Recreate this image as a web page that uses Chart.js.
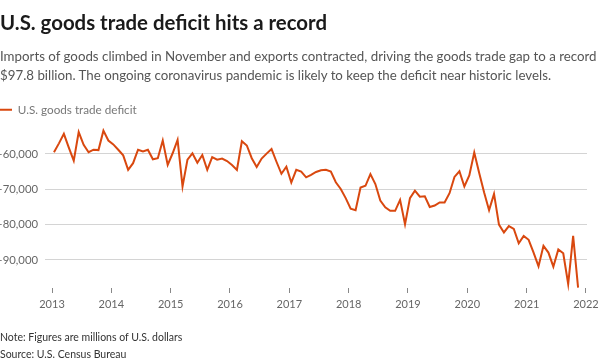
<!DOCTYPE html>
<html>
<head>
<meta charset="utf-8">
<script src="https://cdn.jsdelivr.net/npm/chart.js@4.4.1/dist/chart.umd.min.js"></script>
<style>
    html, body { margin: 0; padding: 0; background: #fff; }
    body { width: 600px; height: 364px; position: relative; overflow: hidden; font-family: Lato, sans-serif; }
    #title { position: absolute; left: 0; top: 10px; font-size: 20.4px; line-height: 24px; font-weight: bold; color: #1a1a1a; white-space: nowrap; }
    #subtitle { position: absolute; left: 0; top: 47px; font-size: 13.3px; line-height: 19px; color: #555; white-space: nowrap; }
    #notes { position: absolute; left: 0; top: 329px; font-size: 10.5px; line-height: 17px; color: #333; }
    #chartWrap { position: absolute; left: 0; top: 0; width: 600px; height: 364px; }
</style>
</head>
<body>
<div id="chartWrap"><canvas id="chart" width="600" height="364"></canvas></div>
<div id="title">U.S. goods trade deficit hits a record</div>
<div id="subtitle">Imports of goods climbed in November and exports contracted, driving the goods trade gap to a record<br>$97.8 billion. The ongoing coronavirus pandemic is likely to keep the deficit near historic levels.</div>
<div id="notes">Note: Figures are millions of U.S. dollars<br>Source: U.S. Census Bureau</div>
<script>
// monthly goods trade balance, millions of USD, Jan 2013 - Nov 2021
const startYear = 2013;
const deficit2013 = [-59500, -57000, -54300, -58200, -61900, -53800, -57400, -59500, -58800, -58900, -53400, -56200];
const deficit2014 = [-57300, -58800, -60400, -64500, -62600, -58800, -59300, -58800, -61500, -61200, -56200, -63100];
const deficit2015 = [-59800, -56000, -69200, -61600, -59800, -62500, -60300, -64500, -60900, -61600, -61300, -62000];
const deficit2016 = [-63100, -64500, -56400, -57600, -61200, -63700, -61300, -59900, -58600, -62200, -65600, -63600];
const deficit2017 = [-68100, -64500, -65000, -66600, -65900, -65100, -64600, -64500, -65000, -68000, -69900, -72500];
const deficit2018 = [-75500, -75900, -69500, -69000, -65700, -68500, -73200, -75100, -76100, -76100, -73000, -79900];
const deficit2019 = [-72500, -70400, -72100, -72000, -75000, -74600, -73700, -73700, -71100, -66500, -64900, -69200];
const deficit2020 = [-66100, -59600, -65400, -70900, -75900, -71300, -80000, -82200, -80400, -81200, -85300, -83200];
const deficit2021 = [-84300, -87900, -91800, -86000, -87900, -91900, -87000, -88100, -96800, -83200, -97800];

const yearTicks = [2013, 2014, 2015, 2016, 2017, 2018, 2019, 2020, 2021, 2022];
const valueTicks = [-90000, -80000, -70000, -60000];
const seriesLabel = "U.S. goods trade deficit";

const lineColor = "#d9480f";

const allValues = [].concat(deficit2013, deficit2014, deficit2015, deficit2016, deficit2017,
    deficit2018, deficit2019, deficit2020, deficit2021);

// each month sits a little into its year slot
const points = allValues.map((v, i) => ({ x: startYear + (i + 0.4) / 12, y: v }));

function formatValue(v) {
    return "\u2212" + Math.abs(v).toLocaleString("en-US");
}

const chart = new Chart(document.getElementById("chart"), {
    type: "line",
    data: {
        datasets: [{
            label: seriesLabel,
            data: points,
            borderColor: lineColor,
            backgroundColor: lineColor,
            borderWidth: 2,
            pointRadius: 0,
            tension: 0,
            clip: false
        }]
    },
    options: {
        responsive: false,
        animation: false,
        parsing: false,
        layout: { padding: { top: 104, bottom: 47.8, left: 0, right: 13 } },
        plugins: {
            legend: {
                position: "top",
                align: "start",
                labels: {
                    boxWidth: 12,
                    boxHeight: 0,
                    padding: 0,
                    color: "#777",
                    font: { family: "Lato", size: 11.7 }
                }
            },
            tooltip: { enabled: false }
        },
        scales: {
            x: {
                type: "linear",
                min: 2012.882,
                max: 2022.017,
                afterBuildTicks: axis => { axis.ticks = yearTicks.map(v => ({ value: v })); },
                afterFit: axis => { axis.paddingLeft = 0; axis.paddingRight = 0; },
                border: { display: false },
                grid: { drawOnChartArea: false, drawTicks: true, tickLength: 5, color: "#888" },
                ticks: {
                    color: "#666",
                    padding: 5,
                    maxRotation: 0,
                    font: { family: "Lato", size: 11 },
                    callback: v => String(v)
                }
            },
            y: {
                min: -97930,
                max: -52000,
                afterBuildTicks: axis => { axis.ticks = valueTicks.map(v => ({ value: v })); },
                afterFit: axis => { axis.width = 45; },
                border: { display: false },
                grid: { drawTicks: false, color: "#d4d4d4" },
                ticks: {
                    color: "#666",
                    padding: 7,
                    font: { family: "Lato", size: 11.3 },
                    callback: v => formatValue(v)
                }
            }
        }
    }
});
</script>
</body>
</html>
